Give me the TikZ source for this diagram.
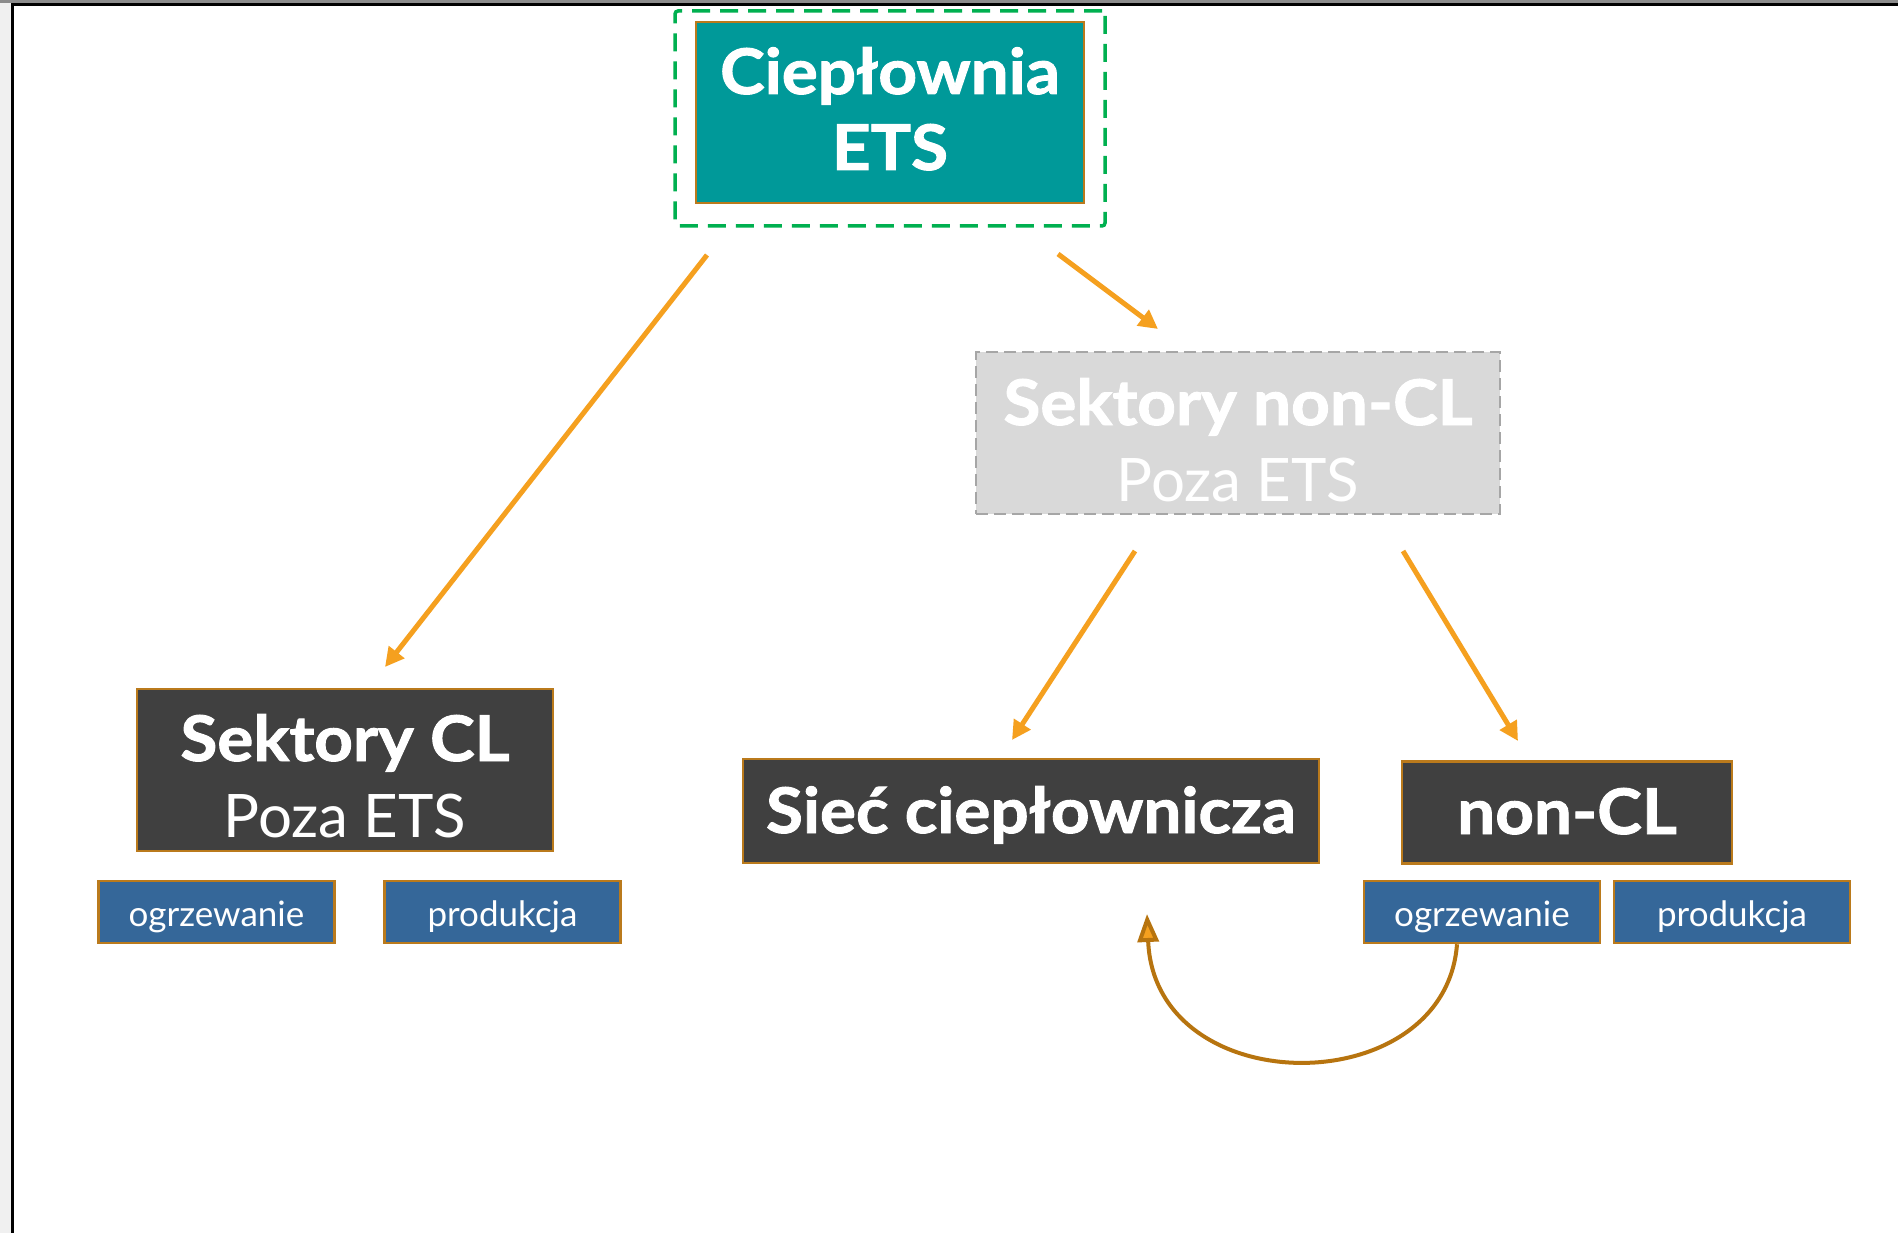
\documentclass[tikz,border=0pt]{standalone}
\usepackage{fontspec}
\setmainfont{Lato}
\newfontfamily\titlefont{Lato}[FakeStretch=1.07, BoldFeatures={FakeBold=1.5}]
\usetikzlibrary{arrows.meta,calc}
\definecolor{tealbox}{HTML}{009999}
\definecolor{boxborder}{HTML}{BA7A1C}
\definecolor{darkbox}{HTML}{404040}
\definecolor{bluebox}{HTML}{356799}
\definecolor{greybox}{HTML}{D9D9D9}
\definecolor{greyborder}{HTML}{A6A6A6}
\definecolor{framegreen}{HTML}{00B050}
\definecolor{arroworange}{HTML}{F5A01F}
\definecolor{curvebrown}{HTML}{B7740F}
\definecolor{leftstrip}{HTML}{F0F0F0}
\definecolor{topband}{HTML}{8C8C8C}
% invisible struts that set line height / depth
\newcommand\hstrut[1]{\rule{0pt}{#1}}
\newcommand\dstrut[1]{\rule[-#1]{0pt}{#1}}
\newcommand\hdstrut[2]{\rule[-#2]{0pt}{\dimexpr#1+#2\relax}}
\newcommand\ttl[1]{{\titlefont\bfseries #1}}
\newcommand\reg[1]{{\fontsize{60}{76}\selectfont #1}}
\begin{document}
\begin{tikzpicture}[x=1pt,y=-1pt,
  bigfont/.style={font=\fontsize{63}{76}\selectfont},
  smallfont/.style={font=\fontsize{35}{40}\selectfont},
  basebox/.style={draw=boxborder, line width=2.5, inner sep=0, align=center, text=white},
  tealnode/.style={basebox, fill=tealbox, bigfont},
  darknode/.style={basebox, fill=darkbox, bigfont},
  bluenode/.style={basebox, fill=bluebox, smallfont, minimum width=236, minimum height=62},
  greynode/.style={draw=greyborder, dash pattern=on 12pt off 6pt, line width=2.5, fill=greybox, inner sep=0, align=center, text=white, bigfont},
  framebox/.style={draw=framegreen, dash pattern=on 18pt off 10pt, line width=3.5, rounded corners=3, inner sep=0},
  flow/.style={draw=arroworange, line width=5, -{Triangle[length=19pt,width=19pt]}},
  loop/.style={draw=curvebrown, line width=4, -{Triangle[length=28pt,width=21pt,fill=arroworange]}}
]
\useasboundingbox (0,0) rectangle (1898,1233);
% page frame
\fill[white] (0,0) rectangle (1898,1233);
\fill[leftstrip] (0,0) rectangle (10.5,1233);
\fill[black] (10.5,2.7) rectangle (13.5,1233);
\fill[black] (10.5,2.7) rectangle (1898,6);
\fill[topband] (0,0) rectangle (1898,2.7);

% nodes
\node[framebox, minimum width=430, minimum height=215] (frame) at (890,118.5) {};
\node[tealnode, minimum width=388, minimum height=181] (ciep) at (890,112.5)
  {\hstrut{51pt}\ttl{Ciepłownia}\\\ttl{ETS}\dstrut{12pt}};
\node[greynode, minimum width=524, minimum height=162] (noncls) at (1238,433)
  {\hstrut{66pt}\ttl{Sektory non-CL}\\\reg{Poza ETS}\dstrut{6pt}};
\node[darknode, minimum width=416, minimum height=162] (cls) at (345,770)
  {\hstrut{64pt}\ttl{Sektory CL}\\\reg{Poza ETS}\dstrut{6pt}};
\node[bluenode] (ogrzL) at (216.5,912) {\hdstrut{40pt}{12pt}ogrzewanie};
\node[bluenode] (prodL) at (502.5,912) {\hdstrut{40pt}{12pt}produkcja};
\node[darknode, minimum width=576, minimum height=104] (siec) at (1031,811)
  {\hdstrut{60pt}{16pt}\ttl{Sieć ciepłownicza}};
\node[darknode, minimum width=330, minimum height=102] (noncl) at (1567,812.5)
  {\hdstrut{54pt}{11pt}\ttl{non-CL}};
\node[bluenode] (ogrzR) at (1482,912) {\hdstrut{40pt}{12pt}ogrzewanie};
\node[bluenode] (prodR) at (1732,912) {\hdstrut{40pt}{12pt}produkcja};

% connector end points
\coordinate (a1s) at (707,255);
\coordinate (a1e) at (385,667);
\coordinate (a2s) at (1058,254);
\coordinate (a2e) at (1158,329);
\coordinate (a3s) at (1135,551);
\coordinate (a3e) at (1012,740);
\coordinate (a4s) at (1403,551);
\coordinate (a4e) at (1518,741);
\coordinate (loopend) at (1147,914);

\draw[flow] (a1s) -- (a1e);
\draw[flow] (a2s) -- (a2e);
\draw[flow] (a3s) -- (a3e);
\draw[flow] (a4s) -- (a4e);
\draw[loop] ($(ogrzR.south)+(-25,0)$) .. controls (1445,1103) and (1155,1103) .. (loopend);
\end{tikzpicture}
\end{document}
